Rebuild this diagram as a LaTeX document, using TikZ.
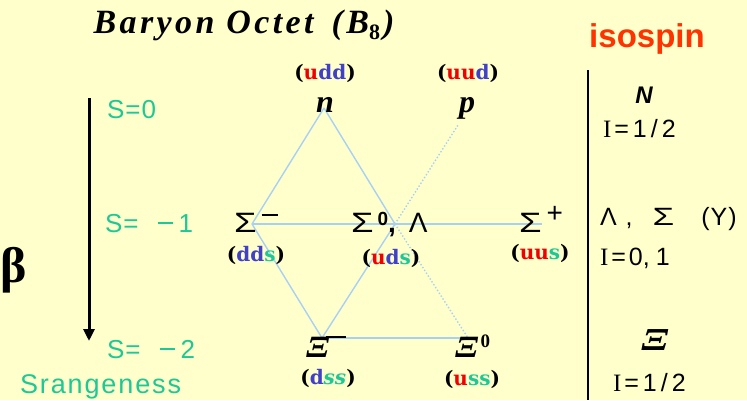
\documentclass[tikz,border=0pt]{standalone}
\usepackage{fontspec}
\usetikzlibrary{arrows.meta}
\setmainfont{Liberation Serif}
\newfontfamily\lsans{Liberation Sans}
\newfontfamily\lserif{Liberation Serif}
\newfontfamily\titlefont{Liberation Serif}[LetterSpace=10]
\newfontfamily\quarkfont{DejaVu Serif}[LetterSpace=4]
\newfontfamily\stext{Liberation Sans}[LetterSpace=4]
\newfontfamily\srtext{Liberation Sans}[LetterSpace=7]
\definecolor{bgyellow}{HTML}{FFFFCC}
\definecolor{steal}{RGB}{30,200,150}
\definecolor{qred}{HTML}{F00000}
\definecolor{qblue}{RGB}{64,64,200}
\definecolor{isored}{HTML}{FF3300}
\definecolor{lblue}{RGB}{168,208,245}
\newcommand\qU{\textcolor{qred}{u}}
\newcommand\qD{\textcolor{qblue}{d}}
\newcommand\qS{\textcolor{steal}{s}}
\newcommand\qSi{\textcolor{steal}{\itshape s}}
\newcommand\wSig{\scalebox{1.3}[1]{Σ}}
\newcommand\wXi{\scalebox{1.15}[1]{Ξ}}
\newcommand\smin{\raisebox{8pt}{\rule{15pt}{2pt}}}
\tikzset{
  every node/.style={inner sep=0pt, outer sep=0pt},
  titlestyle/.style={font=\titlefont\bfseries\itshape\fontsize{34}{38}\selectfont},
  isostyle/.style={text=isored, font=\lsans\bfseries\fontsize{33}{36}\selectfont},
  slabel/.style={text=steal, font=\stext\fontsize{26}{30}\selectfont},
  quark/.style={font=\quarkfont\bfseries\fontsize{20}{24}\selectfont},
  particle/.style={font=\lserif\bfseries\itshape\fontsize{32}{34}\selectfont},
  greek/.style={font=\lsans\fontsize{28}{30}\selectfont},
  xistyle/.style={font=\lserif\bfseries\itshape\fontsize{31}{33}\selectfont},
  rtext/.style={font=\lsans\fontsize{25}{28}\selectfont},
  octline/.style={draw=lblue, line width=1.4pt},
  octdot/.style={draw=lblue, line width=1.4pt, dotted},
}
\begin{document}
\begin{tikzpicture}[x=1pt,y=-1pt]
\fill[bgyellow] (0,0) rectangle (747,400);
\useasboundingbox (0,0) rectangle (747,400);

% vertices
\coordinate (vn) at (324,108);
\coordinate (vsm) at (252,224);
\coordinate (vc) at (395,224);
\coordinate (vsp) at (542,224);
\coordinate (vxm) at (322,338);
\coordinate (vx0) at (468,338);
\coordinate (vp) at (458,125);

\draw[octline] (vn) -- (vsm);
\draw[octline] (vn) -- (vc);
\draw[octline] (vsm) -- (vsp);
\draw[octline] (vsm) -- (vxm);
\draw[octline] (vc) -- (vxm);
\draw[octline] (vxm) -- (vx0);
\draw[octdot] (vc) -- (vx0);
\draw[octdot] (vc) -- (vp);

% title
\node[titlestyle, anchor=base] (title) at (244,33) {Baryon Octet\hspace{18pt}(B\raisebox{-6pt}{\fontsize{22}{22}\selectfont\upshape 8\hspace{3pt}})};
\node[isostyle, anchor=base] (iso) at (647,47) {isospin};

% strangeness axis
\coordinate (atop) at (89,98);
\coordinate (abot) at (89,341);
\draw[line width=3pt, -{Triangle[width=11pt,length=12pt]}] (atop) -- (abot);
\node[slabel, anchor=base west] (s0) at (107,118) {S=0};
\node[slabel, anchor=base west] (s1) at (105,232) {S=\hspace{19pt}\smin\hspace{6pt}1};
\node[slabel, anchor=base west] (s2) at (107,358) {S=\hspace{19pt}\smin\hspace{6pt}2};
\node[slabel, font=\srtext\fontsize{27}{30}\selectfont, anchor=base west] (sr) at (20,393) {Srangeness};
\node[font=\lserif\bfseries\fontsize{50}{52}\selectfont, anchor=base west] (beta) at (0,282) {β};

% right separator
\coordinate (rtop) at (588,70);
\coordinate (rbot) at (588,400);
\draw[line width=2pt] (rtop) -- (rbot);

% quark labels
\node[quark, anchor=base] (qudd) at (325,79) {(\qU\qD\qD)};
\node[quark, anchor=base] (quud) at (468,79) {(\qU\qU\qD)};
\node[quark, anchor=base] (qdds) at (256,261) {(\qD\qD\qS)};
\node[quark, anchor=base] (quds) at (391,264) {(\qU\qD\qS)};
\node[quark, anchor=base] (quus) at (540,259) {(\qU\qU\qS)};
\node[quark, anchor=base] (qdss) at (328,384) {(\qD\qSi\qSi)};
\node[quark, anchor=base] (quss) at (472,385) {(\qU\qS\qS)};

% particles
\node[particle, anchor=base] (pn) at (325,112) {n};
\node[particle, anchor=base] (pp) at (467,112) {p};
\node[greek, anchor=base west] (psm) at (234,232) {\wSig\hspace{5pt}\raisebox{16pt}{\rule{16pt}{1.6pt}}};
\node[greek, anchor=base west] (ps0) at (351,232) {\wSig\hspace{4pt}\raisebox{7pt}{\fontsize{19}{19}\selectfont\bfseries 0}{\bfseries ,}\hspace{13pt}Λ};
\node[greek, anchor=base west] (psp) at (519,232) {\wSig\hspace{5pt}\raisebox{10pt}{\fontsize{28}{28}\selectfont +}};
\node[xistyle, anchor=base west] (pxm) at (306,357) {\wXi\hspace{-4pt}\raisebox{19pt}{\rule{20pt}{1.8pt}}};
\node[xistyle, anchor=base west] (px0) at (455,357) {\wXi\hspace{2pt}\raisebox{10pt}{\fontsize{19}{19}\selectfont\bfseries\upshape 0}};

% right column
\node[font=\lsans\bfseries\itshape\fontsize{24}{26}\selectfont, anchor=base] (rN) at (644,103) {N};
\node[rtext, anchor=base west] (rI1) at (603,137) {{\lserif I}\hspace{3pt}=\hspace{4pt}1\hspace{4pt}/\hspace{4pt}2};
\node[rtext, anchor=base west] (rLS) at (600,225) {Λ\hspace{9pt},\hspace{20pt}\scalebox{1.4}[1]{Σ}\hspace{27pt}(\hspace{1pt}Y\hspace{1pt})};
\node[rtext, anchor=base west] (rI2) at (600,265) {{\lserif I}\hspace{3pt}=\hspace{3pt}0,\hspace{6pt}1};
\node[font=\lserif\bfseries\itshape\fontsize{32}{34}\selectfont, anchor=base] (rXi) at (655,350) {\scalebox{1.3}[1]{Ξ}};
\node[rtext, anchor=base west] (rI3) at (613,391) {{\lserif I}\hspace{3pt}=\hspace{4pt}1\hspace{4pt}/\hspace{4pt}2};
\end{tikzpicture}
\end{document}
